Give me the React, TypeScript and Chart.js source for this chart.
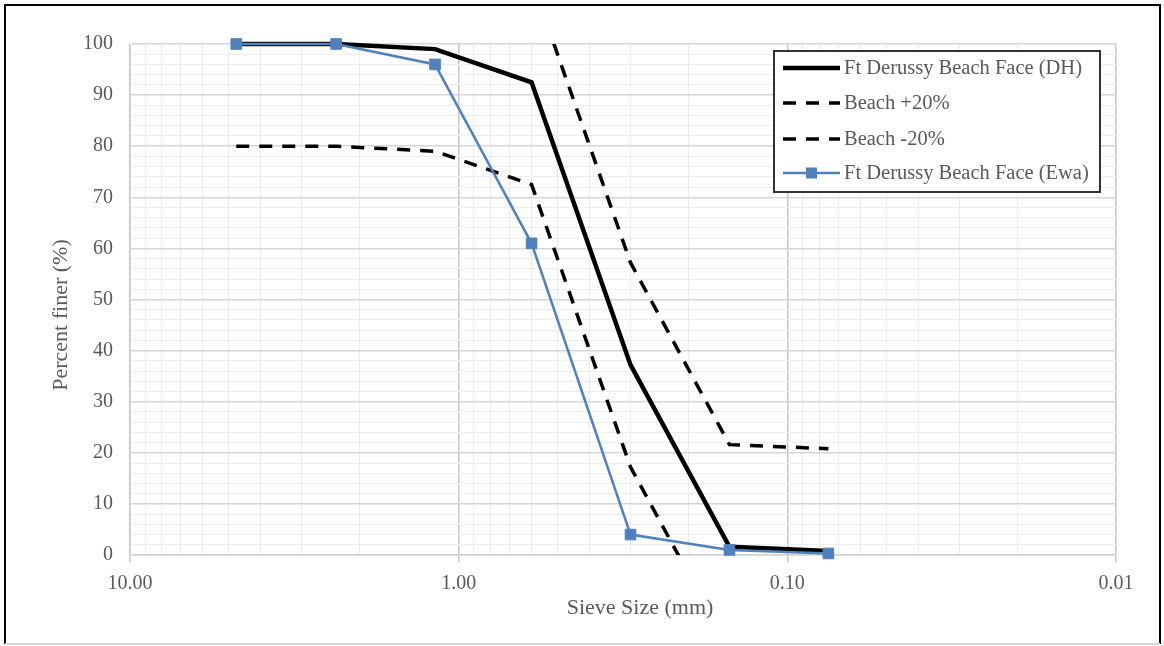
import React, { useEffect, useRef } from "react";
import { Chart, registerables } from "chart.js";

Chart.register(...registerables);

// ---- Data ----
const sieveSizes = [4.75, 2.36, 1.18, 0.6, 0.3, 0.15, 0.075];
const dhFiner = [100, 100, 99, 92.5, 37.2, 1.6, 0.8];
const beachPlus20 = [120, 120, 119, 112.5, 57.2, 21.6, 20.8];
const beachMinus20 = [80, 80, 79, 72.5, 17.2, -18.4, -19.2];
const ewaFiner = [100, 100, 96, 61, 4, 1, 0.3];

const seriesNames = [
  "Ft Derussy Beach Face (DH)",
  "Beach +20%",
  "Beach -20%",
  "Ft Derussy Beach Face (Ewa)",
];
const xMajorTicks = [10, 1, 0.1, 0.01];
const xMajorLabels = ["10.00", "1.00", "0.10", "0.01"];
const yTickLabels = [0, 10, 20, 30, 40, 50, 60, 70, 80, 90, 100];
const xMultipliers = [1, 2, 3, 4, 5, 6, 7, 8, 9];
const xDecades = [0.01, 0.1, 1];

const BLUE = "#4F81BD";
const TEXT = "#595959";
const FONT = "'Liberation Serif', 'Times New Roman', serif";

const isMajorLog = (v: number) => {
  const l = Math.log10(v);
  return Math.abs(l - Math.round(l)) < 1e-6;
};

const toPoints = (ys: number[]) => sieveSizes.map((x, i) => ({ x, y: ys[i] }));

const decorPlugin = {
  id: "decor",
  beforeDraw(chart: any) {
    const ctx = chart.ctx;
    ctx.save();
    ctx.fillStyle = "#ffffff";
    ctx.fillRect(0, 0, chart.width, chart.height);
    ctx.restore();
  },
  afterDraw(chart: any) {
    const ctx = chart.ctx;
    ctx.save();
    // axis titles
    ctx.fillStyle = TEXT;
    ctx.font = `22px ${FONT}`;
    ctx.textAlign = "center";
    ctx.textBaseline = "middle";
    ctx.fillText("Sieve Size (mm)", 640, 608);
    ctx.save();
    ctx.translate(61, 315);
    ctx.rotate(-Math.PI / 2);
    ctx.fillText("Percent finer (%)", 0, 0);
    ctx.restore();

    // legend
    const lx = 774, ly = 51, lw = 326, lh = 141;
    ctx.fillStyle = "#ffffff";
    ctx.fillRect(lx, ly, lw, lh);
    ctx.strokeStyle = "#333333";
    ctx.lineWidth = 2;
    ctx.strokeRect(lx, ly, lw, lh);
    const rows = [68, 103, 139, 173];
    const sx0 = 783, sx1 = 840;
    ctx.font = `20.5px ${FONT}`;
    ctx.textAlign = "left";
    ctx.textBaseline = "middle";
    rows.forEach((ry, i) => {
      ctx.save();
      ctx.beginPath();
      if (i === 0) {
        ctx.strokeStyle = "#000000";
        ctx.lineWidth = 4.5;
        ctx.setLineDash([]);
      } else if (i === 3) {
        ctx.strokeStyle = BLUE;
        ctx.lineWidth = 2.5;
        ctx.setLineDash([]);
      } else {
        ctx.strokeStyle = "#000000";
        ctx.lineWidth = 3.5;
        ctx.setLineDash([13, 10]);
      }
      ctx.moveTo(sx0, ry);
      ctx.lineTo(sx1, ry);
      ctx.stroke();
      if (i === 3) {
        ctx.fillStyle = BLUE;
        ctx.fillRect((sx0 + sx1) / 2 - 5.5, ry - 5.5, 11, 11);
      }
      ctx.restore();
      ctx.fillStyle = TEXT;
      ctx.fillText(seriesNames[i], 844, ry + 1);
    });

    // outer frame
    ctx.strokeStyle = "#000000";
    ctx.lineWidth = 2;
    ctx.beginPath();
    ctx.moveTo(5, 644);
    ctx.lineTo(5, 5);
    ctx.lineTo(1160, 5);
    ctx.lineTo(1160, 644);
    ctx.stroke();
    ctx.strokeStyle = "#d9d9d9";
    ctx.beginPath();
    ctx.moveTo(5, 644);
    ctx.lineTo(1160, 644);
    ctx.stroke();
    ctx.restore();
  },
};

export default function App() {
  const canvasRef = useRef<HTMLCanvasElement | null>(null);

  useEffect(() => {
    const canvas = canvasRef.current;
    if (!canvas) return;
    const chart = new Chart(canvas, {
      type: "line",
      data: {
        datasets: [
          {
            label: seriesNames[3],
            data: toPoints(ewaFiner),
            borderColor: BLUE,
            backgroundColor: BLUE,
            borderWidth: 2.5,
            pointStyle: "rect",
            pointRadius: 7.5,
            pointBorderWidth: 1,
            pointBackgroundColor: BLUE,
            pointBorderColor: BLUE,
            clip: 10,
            order: 0,
          },
          {
            label: seriesNames[0],
            data: toPoints(dhFiner),
            borderColor: "#000000",
            borderWidth: 4.5,
            pointRadius: 0,
            clip: 5,
            order: 1,
          },
          {
            label: seriesNames[1],
            data: toPoints(beachPlus20),
            borderColor: "#000000",
            borderWidth: 3.5,
            borderDash: [13, 10],
            pointRadius: 0,
            order: 2,
          },
          {
            label: seriesNames[2],
            data: toPoints(beachMinus20),
            borderColor: "#000000",
            borderWidth: 3.5,
            borderDash: [13, 10],
            pointRadius: 0,
            order: 3,
          },
        ],
      },
      options: {
        responsive: false,
        animation: false,
        devicePixelRatio: 1,
        layout: { padding: { left: 0, top: 44, right: 48, bottom: 0 } },
        plugins: { legend: { display: false }, tooltip: { enabled: false } },
        elements: { line: { tension: 0 } },
        scales: {
          x: {
            type: "logarithmic",
            min: 0.01,
            max: 10,
            reverse: true,
            afterBuildTicks: (scale: any) => {
              const vals: number[] = [];
              xDecades.forEach((d) => xMultipliers.forEach((m) => vals.push(+(d * m).toPrecision(6))));
              vals.push(10);
              scale.ticks = vals.map((v) => ({ value: v, major: isMajorLog(v) }));
            },
            afterFit: (scale: any) => {
              scale.height = 91;
            },
            ticks: {
              autoSkip: false,
              maxRotation: 0,
              minRotation: 0,
              padding: 10,
              color: TEXT,
              font: { family: FONT, size: 20 },
              callback: (value: any) => {
                const v = Number(value);
                const idx = xMajorTicks.findIndex((m) => Math.abs(m - v) / m < 1e-6);
                return idx >= 0 ? xMajorLabels[idx] : "";
              },
            },
            grid: {
              color: (ctx: any) =>
                ctx.tick && isMajorLog(ctx.tick.value) ? "#c6c6c6" : "#ececec",
              lineWidth: (ctx: any) => (ctx.tick && isMajorLog(ctx.tick.value) ? 1.5 : 1),
              drawTicks: true,
              tickLength: 7,
              tickColor: (ctx: any) =>
                ctx.tick && isMajorLog(ctx.tick.value) ? "#c6c6c6" : "rgba(0,0,0,0)",
            },
            border: { color: "#d0d0d0", width: 1.5 },
          },
          y: {
            type: "linear",
            min: 0,
            max: 100,
            afterFit: (scale: any) => {
              scale.width = 130;
            },
            ticks: {
              stepSize: 2,
              autoSkip: false,
              padding: 17,
              color: TEXT,
              font: { family: FONT, size: 20 },
              callback: (value: any) => {
                const v = Math.round(Number(value));
                return yTickLabels.includes(v) && v % 10 === 0 ? String(v) : "";
              },
            },
            grid: {
              color: (ctx: any) =>
                ctx.tick && Math.round(ctx.tick.value) % 10 === 0 ? "#d6d6d6" : "#eeeeee",
              lineWidth: (ctx: any) =>
                ctx.tick && Math.round(ctx.tick.value) % 10 === 0 ? 1.5 : 1,
              drawTicks: false,
            },
            border: { color: "#d9d9d9", width: 1 },
          },
        },
      },
      plugins: [decorPlugin],
    } as any);
    return () => chart.destroy();
  }, []);

  return (
    <div
      style={{
        position: "absolute",
        left: 0,
        top: 0,
        width: 1164,
        height: 646,
        background: "#ffffff",
      }}
    >
      <canvas
        ref={canvasRef}
        width={1164}
        height={646}
        style={{ display: "block", width: 1164, height: 646 }}
      />
    </div>
  );
}
